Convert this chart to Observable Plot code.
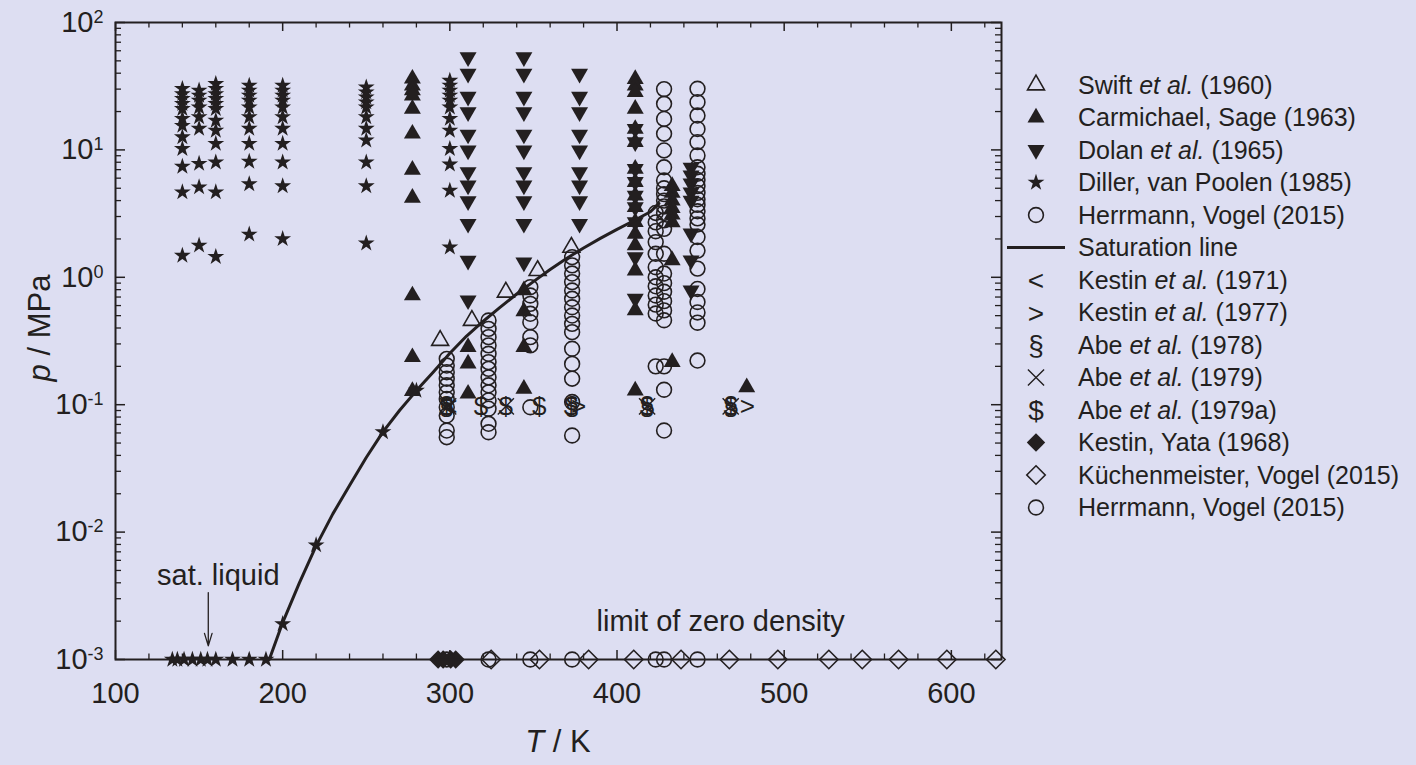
<!DOCTYPE html>
<html><head><meta charset="utf-8">
<script src="https://cdn.jsdelivr.net/npm/d3@7"></script>
<script src="https://cdn.jsdelivr.net/npm/@observablehq/plot@0.6"></script>
<style>
html,body{margin:0;padding:0;background:#dddef2;overflow:hidden;}
#wrap{position:relative;width:1416px;height:765px;font-family:"Liberation Sans",Arial,Helvetica,sans-serif;color:#231f20;}
#wrap svg{position:absolute;left:0;top:0;}
</style></head><body><div id="wrap"></div>
<script>
const ink = "#231f20";

// ---------- data (T in K, p in MPa) ----------
// Saturation line (n-butane)
const satT = [192, 200, 210, 220, 230, 240, 250, 260, 270, 280, 290, 300, 310, 320, 330, 340, 350, 360, 370, 380, 390, 400, 410, 420, 425.1];
const satP = [0.0010, 0.00195, 0.0040, 0.0078, 0.0139, 0.0232, 0.0385, 0.0612, 0.0905, 0.129, 0.180, 0.2535, 0.346, 0.452, 0.58, 0.74, 0.925, 1.15, 1.41, 1.70, 2.02, 2.38, 2.78, 3.27, 3.80];

// Swift et al. (1960)
const swiftT = [294.2, 313.2, 333.5, 352.5, 372.7];
const swiftP = [0.319, 0.458, 0.764, 1.13, 1.72];

// Carmichael, Sage (1963) isotherms
const carmT = [277.6, 310.9, 344.3, 410.9, 433.0, 477.6];
const carmP = [
  [36.2, 32, 29.3, 26.7, 21, 13.4, 6.98, 4.21, 0.72, 0.236, 0.128],
  [0.283, 0.21, 0.122],
  [0.79, 0.54, 0.283, 0.133],
  [36, 32, 28.4, 21, 14.6, 11.5, 7.1, 5.6, 4.38, 3.55, 2.71, 2.19, 1.78, 1.13, 0.55, 0.129],
  [5.2, 4.6, 4.0, 3.5, 3.1, 2.7, 1.36, 0.216],
  [0.137]
];

// Dolan et al. (1965) isotherms
const dolanT = [310.9, 344.3, 377.6, 410.9, 444.3];
const dolanP = [
  [53.4, 39.6, 26.2, 19.8, 13.2, 9.9, 6.7, 5.26, 3.96, 2.63, 1.35, 0.66],
  [53.4, 39.6, 26.2, 19.8, 13.2, 9.9, 6.7, 5.26, 3.96, 2.63, 1.31],
  [39.6, 26.2, 19.8, 13.2, 9.9, 6.7, 5.26, 3.96, 2.63],
  [14.6, 11.5, 7.1, 5.6, 4.38, 3.55, 2.71, 1.44, 0.68],
  [7.27, 6.3, 5.45, 4.63, 4.0, 2.21, 1.36, 0.79]
];

// Diller, van Poolen (1985) isotherms
const dillerT = [140, 150, 160, 180, 200, 250, 300];
const dillerP = [
  [30.2, 27.5, 25.2, 23, 21, 17.6, 15.5, 12.6, 10.2, 7.4, 4.66, 1.48],
  [29.3, 26.7, 24.4, 21.6, 18.1, 14.7, 7.8, 5.1, 1.78],
  [33, 30.2, 27.5, 25.2, 23, 21, 17, 14.2, 11.2, 8.0, 4.66, 1.45],
  [32, 29.3, 26.7, 24.4, 21.6, 18.1, 14.7, 11.2, 8.1, 5.4, 2.17],
  [32, 29.3, 26.7, 24.4, 21.6, 18.1, 14.7, 11.2, 8.0, 5.2, 2.0],
  [31, 28.4, 25.9, 23.7, 21.6, 18.1, 14.7, 11.9, 8.0, 5.2, 1.85],
  [35, 32, 29.3, 26.7, 24.4, 21.6, 17.6, 14.2, 10.2, 7.7, 4.8, 1.72]
];
// Diller points on the saturation line, and saturated liquid (drawn at 1e-3)
const dillerVapT = [200, 220, 260, 280];
const dillerVapP = [0.0019, 0.0079, 0.061, 0.129];
const dillerLiqT = [134, 137, 141, 146, 151, 155, 160, 170, 180, 190];

// Herrmann, Vogel (2015) isotherms
const hvT = [298.15, 323.15, 348.15, 373.15, 423.15, 428.15, 448.15];
const hvP = [
  [0.229, 0.203, 0.180, 0.160, 0.142, 0.125, 0.111, 0.0955, 0.0822, 0.0627, 0.0556],
  [0.458, 0.394, 0.339, 0.292, 0.251, 0.216, 0.191, 0.164, 0.142, 0.125, 0.108, 0.093, 0.0708, 0.0608],
  [0.838, 0.72, 0.619, 0.517, 0.444, 0.339, 0.292, 0.0955],
  [1.44, 1.24, 1.07, 0.917, 0.788, 0.678, 0.582, 0.501, 0.431, 0.371, 0.275, 0.209, 0.160, 0.105, 0.0573],
  [3.2, 2.7, 2.3, 1.89, 1.53, 1.2, 1.0, 0.85, 0.72, 0.61, 0.52, 0.2],
  [30, 23, 17.5, 13.4, 9.9, 7.3, 5.75, 5.0, 4.5, 4.0, 3.6, 3.2, 2.8, 2.4, 1.53, 1.07, 0.9, 0.77, 0.65, 0.55, 0.46, 0.2, 0.131, 0.0627],
  [30.2, 23.7, 18.6, 14.6, 11.5, 9.04, 7.3, 6.5, 5.8, 5.2, 4.6, 4.1, 3.7, 3.3, 2.9, 2.6, 2.07, 1.62, 1.17, 0.81, 0.64, 0.53, 0.44, 0.222]
];

// Near-atmospheric viscometer data (p ≈ 0.1 MPa)
const atmP = 0.097;
const kestin71T = [300];
const kestin77T = [377, 478];
const abe78T = [298, 373, 418, 468];
const abe79T = [299, 333.5, 418, 468];
const abe79aT = [298, 318.6, 333.5, 353.5, 372.5, 418, 468];

// Zero-density limit (drawn at 1e-3)
const zeroP = 0.001;
const kestinYataT = [293, 296, 300.5, 303.5];
const kuechenT = [324.7, 353.6, 383, 410, 438.3, 467.2, 496.2, 526.7, 546.7, 568.4, 597.3, 626.6];
const hvZeroT = [298.15, 323.15, 348.15, 373.15, 423.15, 428.15, 448.15];

// Annotations
const satLiqLabel = [{T: 161.5, p: 0.00385, text: "sat. liquid"}];
const satLiqArrow = [{T: 155.5, p1: 0.00335, p2: 0.00128}];
const zeroLabel = [{T: 462, p: 0.00166, text: "limit of zero density"}];

// Axis ticks
const xMajor = [100, 200, 300, 400, 500, 600];
const xMinor = d3.range(120, 631, 20).filter(v => v % 100 !== 0);
const yMajor = [1e-3, 1e-2, 1e-1, 1, 10, 100];
const yMinor = [];
for (let k = -3; k < 2; k++) for (let m = 2; m <= 9; m++) yMinor.push(m * Math.pow(10, k));

// Legend
const legendLabels = ["Swift <i>et al.</i> (1960)", "Carmichael, Sage (1963)", "Dolan <i>et al.</i> (1965)", "Diller, van Poolen (1985)", "Herrmann, Vogel (2015)", "Saturation line", "Kestin <i>et al.</i> (1971)", "Kestin <i>et al.</i> (1977)", "Abe <i>et al.</i> (1978)", "Abe <i>et al.</i> (1979)", "Abe <i>et al.</i> (1979a)", "Kestin, Yata (1968)", "Küchenmeister, Vogel (2015)", "Herrmann, Vogel (2015)"];
const legendKeys = ["triOpen", "tri", "triDown", "star", "circle", "line", "<", ">", "§", "times", "$", "diamondFill", "diamondOpen", "circle"];

// ---------- helpers ----------
const iso = (Ts, Ps) => Ts.flatMap((T, i) => Ps[i].map(p => ({T, p})));
const pairs = (Ts, Ps) => Ts.map((T, i) => ({T, p: Ps[i]}));
const atPressure = (Ts, p) => Ts.map(T => ({T, p}));

const sqrt3 = Math.sqrt(3);
const triangleDown = {
  draw(context, size) {
    const y = -Math.sqrt(size / (sqrt3 * 3));
    context.moveTo(0, -y * 2);
    context.lineTo(-sqrt3 * y, y);
    context.lineTo(sqrt3 * y, y);
    context.closePath();
  }
};

const R = {tri: 6.3, star: 5.3, circle: 7.4, diamond: 8.3, times: 7.4};

const W = 1416, H = 765, mL = 115, mR = 415, mT = 22, mB = 106;
const plotW = W - mL - mR, plotH = H - mT - mB;

const glyphMark = (Ts, g) => Plot.text(atPressure(Ts, atmP), {
  x: "T", y: "p", text: () => g, fontSize: 26, fill: ink, textAnchor: "middle", lineAnchor: "middle"
});

const chart = Plot.plot({
  width: W, height: H,
  marginLeft: mL, marginRight: mR, marginTop: mT, marginBottom: mB,
  x: {domain: [100, 630]},
  y: {type: "log", domain: [1e-3, 1e2]},
  style: {background: "transparent", fontFamily: "'Liberation Sans', Arial, Helvetica, sans-serif", color: ink, overflow: "visible"},
  marks: [
    // ticks, pointing inward on all four sides
    Plot.tickX(xMajor, {x: d => d, insetTop: plotH - 9, stroke: ink, strokeWidth: 1.5}),
    Plot.tickX(xMajor, {x: d => d, insetBottom: plotH - 9, stroke: ink, strokeWidth: 1.5}),
    Plot.tickX(xMinor, {x: d => d, insetTop: plotH - 5.5, stroke: ink, strokeWidth: 1.3}),
    Plot.tickX(xMinor, {x: d => d, insetBottom: plotH - 5.5, stroke: ink, strokeWidth: 1.3}),
    Plot.tickY(yMajor, {y: d => d, insetRight: plotW - 10, stroke: ink, strokeWidth: 1.5}),
    Plot.tickY(yMajor, {y: d => d, insetLeft: plotW - 10, stroke: ink, strokeWidth: 1.5}),
    Plot.tickY(yMinor, {y: d => d, insetRight: plotW - 6, stroke: ink, strokeWidth: 1.3}),
    Plot.tickY(yMinor, {y: d => d, insetLeft: plotW - 6, stroke: ink, strokeWidth: 1.3}),
    Plot.axisX({ticks: xMajor, tickSize: 0, tickPadding: 23, fontSize: 29, label: null, fill: ink}),
    Plot.axisY({ticks: yMajor, tickSize: 0, tickPadding: 12, fontSize: 29, label: null, fill: ink,
      tickFormat: d => String(Math.round(Math.log10(d)))}),

    // Diller, van Poolen
    Plot.dot(iso(dillerT, dillerP), {x: "T", y: "p", symbol: "star", r: R.star, fill: ink, stroke: "none"}),
    Plot.dot(pairs(dillerVapT, dillerVapP), {x: "T", y: "p", symbol: "star", r: R.star, fill: ink, stroke: "none"}),
    Plot.dot(atPressure(dillerLiqT, zeroP), {x: "T", y: "p", symbol: "star", r: R.star, fill: ink, stroke: "none"}),
    // Carmichael, Sage
    Plot.dot(iso(carmT, carmP), {x: "T", y: "p", symbol: "triangle", r: R.tri, fill: ink, stroke: "none"}),
    // Dolan
    Plot.dot(iso(dolanT, dolanP), {x: "T", y: "p", symbol: triangleDown, r: R.tri, fill: ink, stroke: "none"}),
    // Swift
    Plot.dot(pairs(swiftT, swiftP), {x: "T", y: "p", symbol: "triangle", r: R.tri, fill: "none", stroke: ink, strokeWidth: 1.6}),
    // Herrmann, Vogel
    Plot.dot(iso(hvT, hvP), {x: "T", y: "p", symbol: "circle", r: R.circle, fill: "none", stroke: ink, strokeWidth: 1.6}),
    // near-atmospheric data
    glyphMark(kestin71T, "<"),
    glyphMark(kestin77T, ">"),
    glyphMark(abe78T, "§"),
    Plot.dot(atPressure(abe79T, atmP), {x: "T", y: "p", symbol: "times", r: R.times, stroke: ink, strokeWidth: 1.4}),
    glyphMark(abe79aT, "$"),
    // zero-density limit
    Plot.dot(atPressure(kestinYataT, zeroP), {x: "T", y: "p", symbol: "diamond2", r: R.diamond, fill: ink, stroke: "none"}),
    Plot.dot(atPressure(kuechenT, zeroP), {x: "T", y: "p", symbol: "diamond2", r: R.diamond, fill: "none", stroke: ink, strokeWidth: 1.6}),
    Plot.dot(atPressure(hvZeroT, zeroP), {x: "T", y: "p", symbol: "circle", r: R.circle, fill: "none", stroke: ink, strokeWidth: 1.6}),
    // saturation line
    Plot.line(pairs(satT, satP), {x: "T", y: "p", stroke: ink, strokeWidth: 3}),
    // annotations
    Plot.text(satLiqLabel, {x: "T", y: "p", text: "text", fontSize: 29, fill: ink, textAnchor: "middle", lineAnchor: "bottom"}),
    Plot.arrow(satLiqArrow, {x: "T", y1: "p1", y2: "p2", stroke: ink, strokeWidth: 1.3, headLength: 15, headAngle: 34}),
    Plot.text(zeroLabel, {x: "T", y: "p", text: "text", fontSize: 29, fill: ink, textAnchor: "middle", lineAnchor: "bottom"}),
    Plot.frame({stroke: ink, strokeWidth: 2})
  ]
});

const wrap = document.getElementById("wrap");
wrap.appendChild(chart);
const svg = d3.select(chart);

// superscript exponents on y tick labels
svg.selectAll('g[aria-label="y-axis tick label"] text').each(function () {
  const e = this.textContent;
  const t = d3.select(this);
  t.text(null);
  t.append("tspan").text("10");
  t.append("tspan").attr("dy", "-0.5em").attr("font-size", "0.62em").text(e);
});

// axis titles
const xt = svg.append("text").attr("x", mL + plotW / 2).attr("y", 752)
  .attr("text-anchor", "middle").attr("font-size", 31).attr("fill", ink);
xt.append("tspan").attr("font-style", "italic").text("T");
xt.append("tspan").text(" / K");
const yt = svg.append("text").attr("transform", "translate(50,328) rotate(-90)")
  .attr("text-anchor", "middle").attr("font-size", 31).attr("fill", ink);
yt.append("tspan").attr("font-style", "italic").text("p");
yt.append("tspan").text(" / MPa");

// legend
const lg = svg.append("g").attr("aria-label", "legend");
const symPath = (type, r) => d3.symbol(type, Math.PI * r * r)();
legendKeys.forEach((key, i) => {
  const cy = 85 + i * 32.5, cx = 1036;
  const g = lg.append("g").attr("transform", `translate(${cx},${cy})`);
  if (key === "triOpen") g.append("path").attr("d", symPath(d3.symbolTriangle, R.tri)).attr("fill", "none").attr("stroke", ink).attr("stroke-width", 1.6);
  else if (key === "tri") g.append("path").attr("d", symPath(d3.symbolTriangle, R.tri)).attr("fill", ink);
  else if (key === "triDown") g.append("path").attr("d", symPath(triangleDown, R.tri)).attr("fill", ink);
  else if (key === "star") g.append("path").attr("d", symPath(d3.symbolStar, R.star)).attr("fill", ink);
  else if (key === "circle") g.append("path").attr("d", symPath(d3.symbolCircle, R.circle)).attr("fill", "none").attr("stroke", ink).attr("stroke-width", 1.6);
  else if (key === "line") g.append("line").attr("x1", -29).attr("x2", 29).attr("stroke", ink).attr("stroke-width", 3);
  else if (key === "times") g.append("path").attr("d", symPath(d3.symbolTimes, R.times)).attr("fill", "none").attr("stroke", ink).attr("stroke-width", 1.4);
  else if (key === "diamondFill") g.append("path").attr("d", symPath(d3.symbolDiamond2, R.diamond)).attr("fill", ink);
  else if (key === "diamondOpen") g.append("path").attr("d", symPath(d3.symbolDiamond2, R.diamond)).attr("fill", "none").attr("stroke", ink).attr("stroke-width", 1.6);
  else g.append("text").attr("text-anchor", "middle").attr("dy", "0.36em").attr("font-size", 28).attr("fill", ink).text(key);

  const t = lg.append("text").attr("x", 1078).attr("y", cy).attr("dy", "0.35em")
    .attr("text-anchor", "start").attr("font-size", 25).attr("fill", ink);
  legendLabels[i].split(/(<i>.*?<\/i>)/).filter(s => s).forEach(s => {
    if (s.startsWith("<i>")) t.append("tspan").attr("font-style", "italic").text(s.slice(3, -4));
    else t.append("tspan").text(s);
  });
});
</script>
</body></html>
